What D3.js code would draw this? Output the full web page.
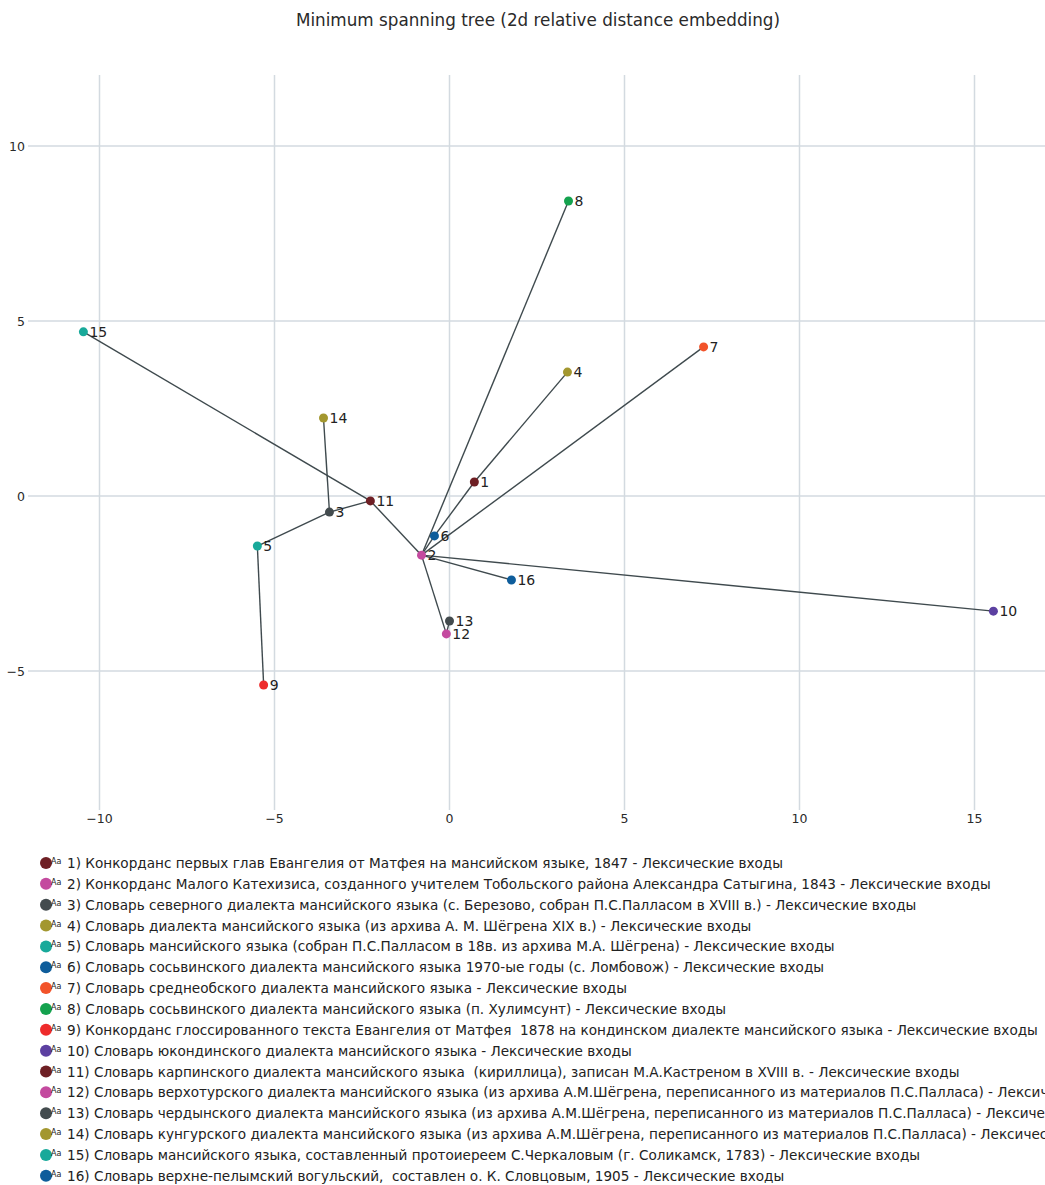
<!DOCTYPE html>
<html>
<head>
<meta charset="utf-8">
<script src="https://cdn.jsdelivr.net/npm/d3@7"></script>
<style>
  body { margin: 0; background: #fff; }
  svg { font-family: "DejaVu Sans", Verdana, sans-serif; }
  text { white-space: pre; }
</style>
</head>
<body>
<svg id="chart" width="1045" height="1185"></svg>
<script>
// node ids, embedding coordinates, colours
var nodeIds = [1, 2, 3, 4, 5, 6, 7, 8, 9, 10, 11, 12, 13, 14, 15, 16];
var xVals = [0.71, -0.80, -3.43, 3.37, -5.49, -0.43, 7.26, 3.40, -5.31, 15.54, -2.26, -0.09, 0.00, -3.60, -10.46, 1.77];
var yVals = [0.40, -1.69, -0.46, 3.54, -1.43, -1.14, 4.26, 8.43, -5.40, -3.29, -0.14, -3.94, -3.57, 2.23, 4.69, -2.40];
var palette = ["#6e1f24", "#c44a9f", "#434b4e", "#a3972f", "#18a99a", "#0e5d9b", "#f2532a", "#14a24e", "#ee2b2b", "#5c40a1"];

// tree edges (pairs of node ids)
var edges = [[15, 11], [11, 3], [3, 14], [3, 5], [5, 9], [11, 2], [2, 8], [2, 6], [6, 1], [1, 4],
             [2, 7], [2, 16], [2, 10], [2, 12], [12, 13]];

var legendNames = [
  "1) Конкорданс первых глав Евангелия от Матфея на мансийском языке, 1847 - Лексические входы",
  "2) Конкорданс Малого Катехизиса, созданного учителем Тобольского района Александра Сатыгина, 1843 - Лексические входы",
  "3) Словарь северного диалекта мансийского языка (с. Березово, собран П.С.Палласом в XVIII в.) - Лексические входы",
  "4) Словарь диалекта мансийского языка (из архива А. М. Шёгрена XIX в.) - Лексические входы",
  "5) Словарь мансийского языка (собран П.С.Палласом в 18в. из архива М.А. Шёгрена) - Лексические входы",
  "6) Словарь сосьвинского диалекта мансийского языка 1970-ые годы (с. Ломбовож) - Лексические входы",
  "7) Словарь среднеобского диалекта мансийского языка - Лексические входы",
  "8) Словарь сосьвинского диалекта мансийского языка (п. Хулимсунт) - Лексические входы",
  "9) Конкорданс глоссированного текста Евангелия от Матфея  1878 на кондинском диалекте мансийского языка - Лексические входы",
  "10) Словарь юкондинского диалекта мансийского языка - Лексические входы",
  "11) Словарь карпинского диалекта мансийского языка  (кириллица), записан М.А.Кастреном в XVIII в. - Лексические входы",
  "12) Словарь верхотурского диалекта мансийского языка (из архива А.М.Шёгрена, переписанного из материалов П.С.Палласа) - Лексические входы",
  "13) Словарь чердынского диалекта мансийского языка (из архива А.М.Шёгрена, переписанного из материалов П.С.Палласа) - Лексические входы",
  "14) Словарь кунгурского диалекта мансийского языка (из архива А.М.Шёгрена, переписанного из материалов П.С.Палласа) - Лексические входы",
  "15) Словарь мансийского языка, составленный протоиереем С.Черкаловым (г. Соликамск, 1783) - Лексические входы",
  "16) Словарь верхне-пелымский вогульский,  составлен о. К. Словцовым, 1905 - Лексические входы"
];

var xTicks = [-10, -5, 0, 5, 10, 15];
var yTicks = [-5, 0, 5, 10];

var nodes = nodeIds.map(function(id, i) {
    return {id: id, x: xVals[i], y: yVals[i], color: palette[i % palette.length], name: legendNames[i]};
});
var byId = {};
nodes.forEach(function(n) { byId[n.id] = n; });

var svg = d3.select("#chart");

// plot area
var plotLeft = 28, plotRight = 1045, plotTop = 75, plotBottom = 810;

var xScale = d3.scaleLinear().domain([-10, 15]).range([99.5, 974.5]);
var yScale = d3.scaleLinear().domain([-5, 10]).range([671, 146]);

svg.append("text")
    .attr("x", 538).attr("y", 26)
    .attr("text-anchor", "middle")
    .attr("font-size", 16.8)
    .attr("fill", "#2a2a2a")
    .text("Minimum spanning tree (2d relative distance embedding)");

// grid
svg.append("g").selectAll("line")
    .data(xTicks).enter().append("line")
    .attr("x1", function(d) { return xScale(d); })
    .attr("x2", function(d) { return xScale(d); })
    .attr("y1", plotTop).attr("y2", plotBottom)
    .attr("stroke", "#d3dae0").attr("stroke-width", 1.5);

svg.append("g").selectAll("line")
    .data(yTicks).enter().append("line")
    .attr("x1", plotLeft).attr("x2", plotRight)
    .attr("y1", function(d) { return yScale(d); })
    .attr("y2", function(d) { return yScale(d); })
    .attr("stroke", "#d3dae0").attr("stroke-width", 1.5);

var fmt = function(d) { return d < 0 ? "\u2212" + Math.abs(d) : String(d); };

svg.append("g").selectAll("text")
    .data(xTicks).enter().append("text")
    .attr("x", function(d) { return xScale(d); })
    .attr("y", 823)
    .attr("text-anchor", "middle")
    .attr("font-size", 12.5)
    .attr("fill", "#2a2a2a")
    .text(fmt);

svg.append("g").selectAll("text")
    .data(yTicks).enter().append("text")
    .attr("x", 25)
    .attr("y", function(d) { return yScale(d) + 4.5; })
    .attr("text-anchor", "end")
    .attr("font-size", 12.5)
    .attr("fill", "#2a2a2a")
    .text(fmt);

// edges
svg.append("g").selectAll("line")
    .data(edges).enter().append("line")
    .attr("x1", function(d) { return xScale(byId[d[0]].x); })
    .attr("y1", function(d) { return yScale(byId[d[0]].y); })
    .attr("x2", function(d) { return xScale(byId[d[1]].x); })
    .attr("y2", function(d) { return yScale(byId[d[1]].y); })
    .attr("stroke", "#3f4a4e").attr("stroke-width", 1.4);

// points + labels
var pts = svg.append("g").selectAll("g")
    .data(nodes).enter().append("g")
    .attr("transform", function(d) { return "translate(" + xScale(d.x) + "," + yScale(d.y) + ")"; });
pts.append("circle").attr("r", 4.5).attr("fill", function(d) { return d.color; });
pts.append("text")
    .attr("x", 6).attr("y", 5)
    .attr("font-size", 14)
    .attr("fill", "#222")
    .text(function(d) { return d.id; });

// legend
var leg = svg.append("g").selectAll("g")
    .data(nodes).enter().append("g")
    .attr("transform", function(d, i) { return "translate(46," + (863 + i * 20.85) + ")"; });
leg.append("circle").attr("r", 6).attr("fill", function(d) { return d.color; });
leg.append("text")
    .attr("x", 5).attr("y", 1)
    .attr("font-size", 8)
    .attr("fill", "#222")
    .text("Aa");
leg.append("text")
    .attr("x", 21).attr("y", 5)
    .attr("font-size", 13.6)
    .attr("fill", "#222")
    .text(function(d) { return d.name; });
</script>
</body>
</html>
